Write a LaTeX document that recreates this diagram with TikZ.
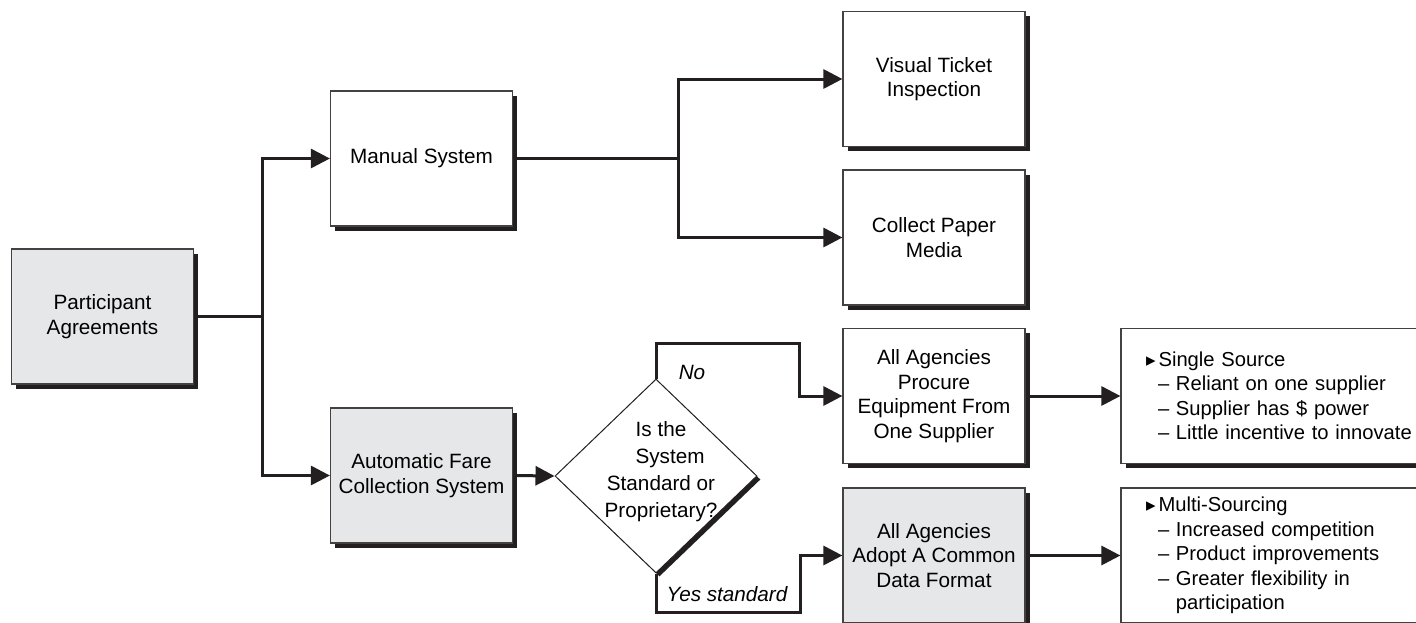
\documentclass[tikz,border=0pt]{standalone}
\usepackage{fontspec}
\setmainfont{Liberation Sans}
\newfontfamily\symfont{DejaVu Sans}
\usetikzlibrary{arrows.meta,shapes.geometric,shadows}
\definecolor{boxgray}{HTML}{E6E7E8}
\definecolor{ink}{HTML}{231F20}
\begin{document}
\begin{tikzpicture}[x=1pt,y=-1pt,
  box/.style={draw=ink!85, line width=1.2pt, fill=white, minimum width=182pt, minimum height=135pt,
    inner sep=0pt, align=center, font=\fontsize{20.7}{24.5}\selectfont,
    drop shadow={shadow xshift=4.5pt, shadow yshift=-4.5pt, opacity=1, fill=ink}},
  graybox/.style={box, fill=boxgray},
  listbox/.style={box, minimum width=350pt, text width=300pt, inner xsep=25pt, align=left,
    font=\fontsize{20.2}{24.5}\selectfont},
  decision/.style={shape=diamond, draw=ink, line width=1pt, fill=white, minimum width=202pt,
    minimum height=194pt, inner sep=0pt,
    drop shadow={shadow xshift=3.5pt, shadow yshift=-3.5pt, opacity=1, fill=ink}},
  dtext/.style={align=center, inner sep=0pt, font=\fontsize{20.7}{27}\selectfont},
  lbl/.style={inner sep=0pt, font=\fontsize{20.7}{24.5}\selectfont\itshape},
  conn/.style={draw=ink, line width=3pt},
  arr/.style={conn, -{Triangle[length=19pt,width=19pt]}}
]
\useasboundingbox (0,0) rectangle (1416,622);
\clip (0,0) rectangle (1416,622);

\newcommand{\bul}{{\symfont\fontsize{19}{19}\selectfont ▸}\hspace{3pt}}
\newcommand{\dsh}{\hspace*{12pt}–\ }

\node[graybox] (pa) at (102.5,316.5) {Participant\\Agreements};
\node[box] (ms) at (421.5,158.5) {Manual System};
\node[graybox] (afc) at (421.5,475.5) {Automatic Fare\\Collection System};
\node[box] (vti) at (934,79) {Visual Ticket\\Inspection};
\node[box] (cpm) at (934,237.5) {Collect Paper\\Media};
\node[decision] (dec) at (656,476) {};
\node[dtext] (dect) at (661,472) {Is the\\\hspace*{18pt}System\\Standard or\\Proprietary?};
\node[box] (pes) at (934,396) {All Agencies\\Procure\\Equipment From\\One Supplier};
\node[graybox] (adf) at (934,555.5) {All Agencies\\Adopt A Common\\Data Format};
\node[listbox] (ss) at (1296,396) {\bul Single Source\\\dsh Reliant on one supplier\\\dsh Supplier has \$ power\\\dsh Little incentive to innovate};
\node[listbox] (msrc) at (1296,555.5) {\bul Multi-Sourcing\\\dsh Increased competition\\\dsh Product improvements\\\dsh Greater flexibility in\\\hspace*{12pt}\phantom{–\ }participation};

\node[lbl, anchor=base] (no) at (692,379) {No};
\node[lbl, anchor=base] (yes) at (727,601) {Yes standard};

\coordinate (j1) at (262,316.5);
\coordinate (j2) at (678,158.5);
\coordinate (nc) at (799,343);
\coordinate (yc) at (800,612);

\draw[conn] (pa.east) -- (j1);
\draw[arr] (j1) |- (ms.west);
\draw[arr] (j1) |- (afc.west);
\draw[conn] (ms.east) -- (j2);
\draw[arr] (j2) |- (vti.west);
\draw[arr] (j2) |- (cpm.west);
\draw[arr] (afc.east) -- (dec.west);
\draw[arr] (dec.north) |- (nc) |- (pes.west);
\draw[arr] (dec.south) |- (yc) |- (adf.west);
\draw[arr] (pes.east) -- (ss.west);
\draw[arr] (adf.east) -- (msrc.west);
\end{tikzpicture}
\end{document}
